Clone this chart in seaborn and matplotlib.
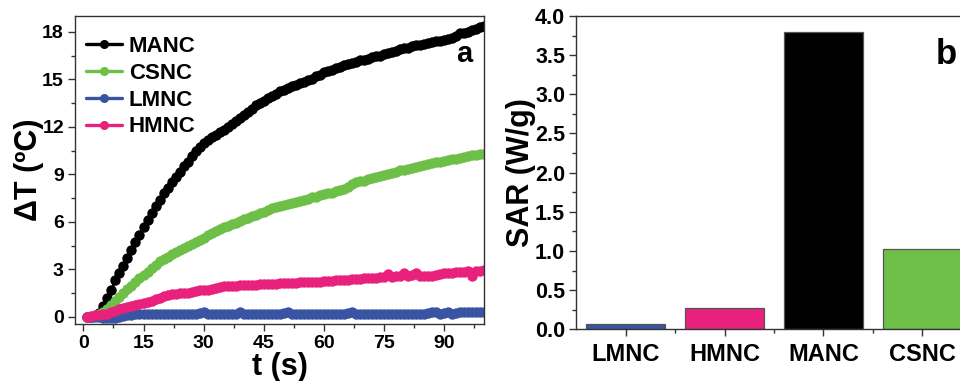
import numpy as np
import pandas as pd
import matplotlib
matplotlib.use("Agg")
import matplotlib.pyplot as plt
from matplotlib.lines import Line2D
from matplotlib.ticker import MultipleLocator
import seaborn as sns

# ---------------- data ----------------
time_s = list(range(1, 101))

manc = [0.0, 0.0, 0.05, 0.25, 0.7, 1.2, 1.7, 2.3, 2.75, 3.2,
        3.7, 4.25, 4.75, 5.2, 5.65, 6.1, 6.55, 7.0, 7.4, 7.8,
        8.15, 8.5, 8.85, 9.15, 9.5, 9.8, 10.15, 10.45, 10.75, 10.95,
        11.15, 11.35, 11.5, 11.65, 11.8, 12.0, 12.15, 12.35, 12.55, 12.75,
        12.95, 13.15, 13.35, 13.5, 13.65, 13.8, 13.95, 14.1, 14.25, 14.35,
        14.45, 14.55, 14.65, 14.75, 14.85, 14.95, 15.05, 15.2, 15.3, 15.45,
        15.5, 15.6, 15.7, 15.8, 15.9, 15.95, 16.05, 16.1, 16.2, 16.25,
        16.3, 16.4, 16.45, 16.5, 16.6, 16.65, 16.75, 16.8, 16.9, 16.95,
        17.0, 17.1, 17.15, 17.2, 17.25, 17.3, 17.35, 17.4, 17.45, 17.5,
        17.55, 17.6, 17.75, 17.9, 17.95, 18.0, 18.1, 18.2, 18.3, 18.35]

csnc = [0.0, 0.0, 0.05, 0.15, 0.3, 0.5, 0.75, 1.0, 1.25, 1.5,
        1.75, 1.95, 2.2, 2.45, 2.65, 2.85, 3.1, 3.3, 3.5, 3.65,
        3.8, 3.95, 4.1, 4.25, 4.35, 4.5, 4.6, 4.75, 4.85, 5.0,
        5.15, 5.3, 5.45, 5.55, 5.65, 5.75, 5.85, 5.95, 6.05, 6.15,
        6.25, 6.35, 6.45, 6.55, 6.65, 6.75, 6.85, 6.95, 7.0, 7.05,
        7.1, 7.2, 7.25, 7.3, 7.4, 7.45, 7.55, 7.6, 7.7, 7.75,
        7.8, 7.85, 7.95, 8.0, 8.05, 8.2, 8.4, 8.5, 8.55, 8.6,
        8.7, 8.75, 8.85, 8.9, 8.95, 9.05, 9.1, 9.15, 9.25, 9.3,
        9.35, 9.4, 9.45, 9.55, 9.6, 9.65, 9.7, 9.75, 9.8, 9.85,
        9.9, 9.95, 10.0, 10.05, 10.1, 10.15, 10.2, 10.25, 10.3, 10.3]

lmnc = [0.0, 0.0, 0.0, -0.02, -0.04, -0.05, -0.05, -0.04, -0.02, 0.05,
        0.1, 0.12, 0.15, 0.15, 0.15, 0.15, 0.18, 0.2, 0.2, 0.2,
        0.2, 0.2, 0.2, 0.2, 0.2, 0.2, 0.2, 0.2, 0.22, 0.32,
        0.2, 0.2, 0.2, 0.2, 0.2, 0.2, 0.2, 0.2, 0.3, 0.2,
        0.2, 0.2, 0.2, 0.2, 0.2, 0.2, 0.2, 0.2, 0.2, 0.22,
        0.32, 0.2, 0.2, 0.2, 0.2, 0.2, 0.2, 0.2, 0.2, 0.2,
        0.2, 0.2, 0.2, 0.2, 0.2, 0.22, 0.32, 0.2, 0.2, 0.2,
        0.2, 0.2, 0.2, 0.2, 0.2, 0.2, 0.2, 0.2, 0.2, 0.2,
        0.2, 0.2, 0.2, 0.2, 0.2, 0.22, 0.3, 0.28, 0.2, 0.25,
        0.3, 0.15, 0.25, 0.3, 0.3, 0.3, 0.3, 0.3, 0.3, 0.3]

hmnc = [0.0, 0.05, 0.1, 0.12, 0.15, 0.2, 0.28, 0.38, 0.5, 0.55,
        0.62, 0.68, 0.75, 0.8, 0.88, 0.95, 1.0, 1.1, 1.2, 1.3,
        1.38, 1.42, 1.45, 1.48, 1.5, 1.52, 1.58, 1.62, 1.68, 1.7,
        1.72, 1.78, 1.85, 1.9, 1.92, 1.93, 1.95, 1.98, 2.0, 2.0,
        2.02, 2.02, 2.03, 2.05, 2.05, 2.07, 2.08, 2.1, 2.12, 2.13,
        2.15, 2.15, 2.17, 2.18, 2.2, 2.22, 2.2, 2.22, 2.23, 2.25,
        2.27, 2.28, 2.3, 2.32, 2.33, 2.35, 2.37, 2.4, 2.42, 2.45,
        2.45, 2.47, 2.48, 2.5, 2.5, 2.68, 2.52, 2.55, 2.58, 2.78,
        2.6, 2.62, 2.75, 2.58, 2.58, 2.6, 2.6, 2.62, 2.72, 2.75,
        2.78, 2.8, 2.82, 2.85, 2.85, 2.88, 2.6, 2.9, 2.9, 2.95]

series_names = ["MANC", "CSNC", "LMNC", "HMNC"]
series_vals = [manc, csnc, lmnc, hmnc]

bar_categories = ["LMNC", "HMNC", "MANC", "CSNC"]
sar_values = [0.065, 0.27, 3.8, 1.025]

colors = {"MANC": "#000000", "CSNC": "#6dbf47", "LMNC": "#3a54a4", "HMNC": "#e8217c"}

# ---------------- style ----------------
sns.set_theme(style="ticks")
plt.rcParams["font.family"] = ["Liberation Sans", "DejaVu Sans"]
plt.rcParams["font.weight"] = "bold"
plt.rcParams["axes.labelweight"] = "bold"
plt.rcParams["text.color"] = "black"
plt.rcParams["axes.labelcolor"] = "black"
plt.rcParams["axes.edgecolor"] = "#333333"
plt.rcParams["axes.linewidth"] = 1.0
plt.rcParams["xtick.color"] = "#333333"
plt.rcParams["ytick.color"] = "#333333"
plt.rcParams["xtick.labelcolor"] = "black"
plt.rcParams["ytick.labelcolor"] = "black"

W, H = 960, 381
fig = plt.figure(figsize=(W / 100, H / 100), dpi=100)

# ---------------- panel a ----------------
ax1 = fig.add_axes([75 / W, 1 - 324 / H, 409 / W, 308 / H])
df = pd.DataFrame({
    "t": time_s * len(series_names),
    "dT": sum(series_vals, []),
    "sample": sum([[n] * len(time_s) for n in series_names], []),
})
sns.lineplot(data=df, x="t", y="dT", hue="sample", hue_order=series_names,
             palette=colors, marker="o", markersize=7.5, markeredgewidth=0,
             linewidth=2.0, legend=False, ax=ax1)
ax1.set_xlim(-2.1, 100)
ax1.set_ylim(-0.45, 19.0)
ax1.xaxis.set_major_locator(MultipleLocator(15))
ax1.xaxis.set_minor_locator(MultipleLocator(7.5))
ax1.yaxis.set_major_locator(MultipleLocator(3))
ax1.yaxis.set_minor_locator(MultipleLocator(1.5))
ax1.tick_params(which="major", direction="out", length=5, width=1.0, labelsize=14, pad=3)
ax1.tick_params(which="minor", direction="out", length=3, width=1.0)
for lab in ax1.get_xticklabels() + ax1.get_yticklabels():
    lab.set_fontweight("bold")
ax1.set_xlabel("t (s)", fontsize=22, fontweight="bold", labelpad=0)
ax1.set_ylabel("ΔT (ºC)", fontsize=22, fontweight="bold", labelpad=-1)
for s in ["top", "right", "left", "bottom"]:
    ax1.spines[s].set_visible(True)

handles = [Line2D([0], [0], color=colors[n], marker="o", markersize=6.5,
                  markeredgewidth=0, linewidth=2.4) for n in series_names]
leg = ax1.legend(handles, series_names, loc="upper left", bbox_to_anchor=(0.028, 0.935),
                 frameon=False, borderpad=0, borderaxespad=0, handlelength=1.6,
                 handletextpad=0.3, labelspacing=0.26,
                 prop={"size": 16, "weight": "bold"})
fig.text(464 / W, 1 - 54 / H, "a", fontsize=21, fontweight="bold",
         ha="center", va="center")

# ---------------- panel b ----------------
ax2 = fig.add_axes([576.3 / W, 1 - 329.3 / H, 395.3 / W, 313.3 / H])
sns.barplot(x=bar_categories, y=sar_values, hue=bar_categories,
            palette=[colors[c] for c in bar_categories], order=bar_categories,
            hue_order=bar_categories, width=0.8, saturation=1, edgecolor="#555555",
            linewidth=0.9, legend=False, ax=ax2)
ax2.set_xlim(-0.5, 3.5)
ax2.set_ylim(0, 4.0)
ax2.yaxis.set_major_locator(MultipleLocator(0.5))
ax2.yaxis.set_minor_locator(MultipleLocator(0.25))
ax2.set_xticks(range(len(bar_categories)))
ax2.set_xticks([0.5, 1.5, 2.5], minor=True)
ax2.tick_params(which="major", direction="out", length=5, width=1.0, pad=3)
ax2.tick_params(axis="y", which="major", labelsize=15.5)
ax2.tick_params(axis="x", which="major", labelsize=17, pad=5)
ax2.tick_params(which="minor", direction="out", length=3, width=1.0)
for lab in ax2.get_xticklabels() + ax2.get_yticklabels():
    lab.set_fontweight("bold")
ax2.set_ylabel("SAR (W/g)", fontsize=22, fontweight="bold", labelpad=-1)
ax2.set_xlabel("")
for s in ["top", "right", "left", "bottom"]:
    ax2.spines[s].set_visible(True)
fig.text(946 / W, 1 - 54 / H, "b", fontsize=25, fontweight="bold",
         ha="center", va="center")

fig.savefig("out.png", dpi=100)
